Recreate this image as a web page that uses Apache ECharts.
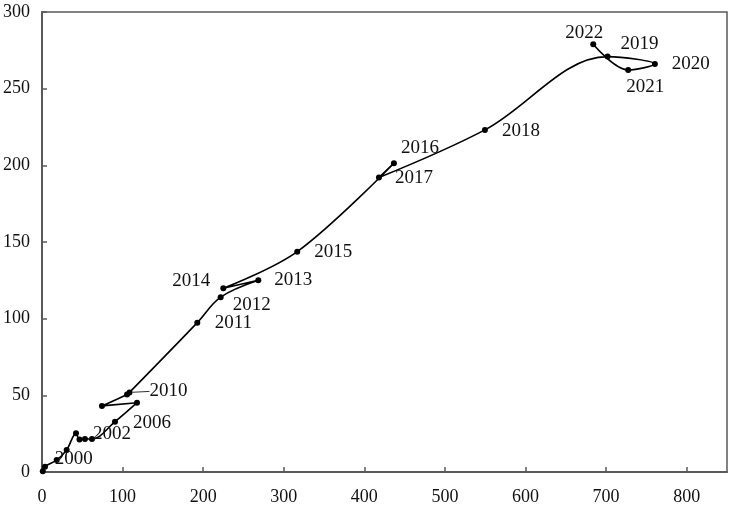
<!DOCTYPE html>
<html>
<head>
<meta charset="utf-8">
<script src="https://cdn.jsdelivr.net/npm/echarts@6/dist/echarts.min.js"></script>
<style>
  html, body { margin: 0; padding: 0; background: #fff; }
  #chart { width: 736px; height: 509px; }
</style>
</head>
<body>
<div id="chart"></div>
<script>
// ---- data ----
const years   = [1998, 1999, 2000, 2001, 2002, 2003, 2004, 2005, 2006, 2007, 2008, 2009, 2010,
                 2011, 2012, 2013, 2014, 2015, 2016, 2017, 2018, 2019, 2020, 2021, 2022];
const xValues = [1, 3.7, 18.2, 30.6, 42.2, 46.5, 53.3, 62, 90.6, 117.9, 74.4, 105.5, 108.6,
                 192.7, 221.7, 268.4, 225, 316.7, 436.7, 418.1, 549.6, 701.8, 760.5, 727.4, 684];
const yValues = [0.5, 3.5, 7.8, 14.4, 25.2, 21.2, 21.5, 21.5, 32.8, 45.2, 43.1, 50.6, 51.9,
                 97.4, 114, 125, 119.8, 143.7, 201.4, 192, 223.1, 270.9, 266.1, 262.2, 279];
const labeledYears = [2000, 2002, 2006, 2010, 2011, 2012, 2013, 2014, 2015, 2016, 2017,
                      2018, 2019, 2020, 2021, 2022];
const leaderYears = [2010];
const xTicks = [0, 100, 200, 300, 400, 500, 600, 700, 800];
const yTicks = [0, 50, 100, 150, 200, 250, 300];

// ---- label placement (layout only, pixel shifts) ----
const labelOffset = {
  2000: [17, -1], 2002: [36, 1], 2006: [37, 1], 2010: [14, -1],
  2011: [36, 0], 2012: [31, 8], 2013: [35, 0], 2014: [-32, -7],
  2015: [36, 0], 2016: [26, -15], 2017: [35, 0], 2018: [36, 1],
  2019: [32, -13], 2020: [36, 0], 2021: [17, 17], 2022: [-9, -11]
};

const FONT = '"Liberation Serif", "DejaVu Serif", serif';
const labelText = { color: '#111', fontFamily: FONT, fontSize: 19 };

const seriesData = years.map((yr, i) => {
  const item = { value: [xValues[i], yValues[i]] };
  if (leaderYears.includes(yr)) {
    item.label = Object.assign({ show: true, formatter: String(yr), position: 'right', distance: 3 }, labelText);
    item.labelLine = { show: true, lineStyle: { color: '#333', width: 1 } };
  } else if (labeledYears.includes(yr)) {
    item.label = Object.assign({ show: true, formatter: String(yr), position: 'inside' }, labelText);
  }
  return item;
});

const chart = echarts.init(document.getElementById('chart'), null, { renderer: 'canvas' });
chart.setOption({
  animation: false,
  backgroundColor: '#fff',
  grid: {
    left: 42, right: 9, top: 12, bottom: 37,
    show: true, borderColor: '#5a5a5a', borderWidth: 1.5, backgroundColor: 'transparent'
  },
  xAxis: {
    type: 'value',
    min: 0, max: 850, interval: 100,
    axisLine: { show: true, onZero: false, lineStyle: { color: '#5a5a5a', width: 2 } },
    axisTick: { show: true, inside: true, length: 5, lineStyle: { color: '#5a5a5a', width: 1.5 } },
    axisLabel: {
      color: '#111', fontFamily: FONT, fontSize: 18, margin: 16, showMaxLabel: false,
      formatter: v => (xTicks.includes(v) ? String(v) : '')
    },
    splitLine: { show: false }
  },
  yAxis: {
    type: 'value',
    min: 0, max: 300, interval: 50,
    axisLine: { show: true, onZero: false, lineStyle: { color: '#5a5a5a', width: 2 } },
    axisTick: { show: true, inside: true, length: 5, lineStyle: { color: '#5a5a5a', width: 1.5 } },
    axisLabel: {
      color: '#111', fontFamily: FONT, fontSize: 18, margin: 12,
      formatter: v => (yTicks.includes(v) ? String(v) : '')
    },
    splitLine: { show: false }
  },
  series: [{
    type: 'line',
    data: seriesData,
    smooth: 0.35,
    symbol: 'circle',
    symbolSize: 6,
    showAllSymbol: true,
    lineStyle: { color: '#000', width: 1.6 },
    itemStyle: { color: '#000' },
    label: { show: false },
    labelLayout: function (params) {
      const off = labelOffset[years[params.dataIndex]];
      return off ? { dx: off[0], dy: off[1] } : {};
    },
    emphasis: { disabled: true }
  }]
});
</script>
</body>
</html>
